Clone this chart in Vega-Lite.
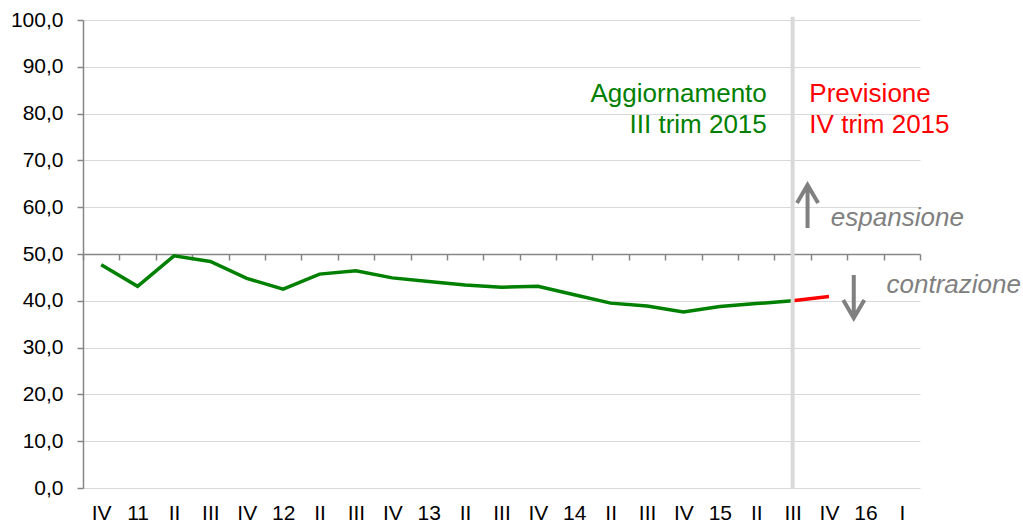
{
  "$schema": "https://vega.github.io/schema/vega-lite/v6.json",
  "width": 837,
  "height": 468,
  "autosize": {"type": "none"},
  "padding": {"left": 83, "top": 20, "right": 103, "bottom": 35},
  "background": "white",
  "config": {
    "font": "Liberation Sans",
    "view": {"stroke": null},
    "axis": {"labelFont": "Liberation Sans", "titleFont": "Liberation Sans"}
  },
  "resolve": {"axis": {"x": "independent"}},
  "layer": [
    {
      "data": {
        "values": [
          {"idx": 0, "value": 47.7, "series": "Aggiornamento III trim 2015"},
          {"idx": 1, "value": 43.1, "series": "Aggiornamento III trim 2015"},
          {"idx": 2, "value": 49.6, "series": "Aggiornamento III trim 2015"},
          {"idx": 3, "value": 48.4, "series": "Aggiornamento III trim 2015"},
          {"idx": 4, "value": 44.8, "series": "Aggiornamento III trim 2015"},
          {"idx": 5, "value": 42.5, "series": "Aggiornamento III trim 2015"},
          {"idx": 6, "value": 45.7, "series": "Aggiornamento III trim 2015"},
          {"idx": 7, "value": 46.4, "series": "Aggiornamento III trim 2015"},
          {"idx": 8, "value": 44.9, "series": "Aggiornamento III trim 2015"},
          {"idx": 9, "value": 44.1, "series": "Aggiornamento III trim 2015"},
          {"idx": 10, "value": 43.4, "series": "Aggiornamento III trim 2015"},
          {"idx": 11, "value": 42.9, "series": "Aggiornamento III trim 2015"},
          {"idx": 12, "value": 43.1, "series": "Aggiornamento III trim 2015"},
          {"idx": 13, "value": 41.3, "series": "Aggiornamento III trim 2015"},
          {"idx": 14, "value": 39.5, "series": "Aggiornamento III trim 2015"},
          {"idx": 15, "value": 38.9, "series": "Aggiornamento III trim 2015"},
          {"idx": 16, "value": 37.6, "series": "Aggiornamento III trim 2015"},
          {"idx": 17, "value": 38.8, "series": "Aggiornamento III trim 2015"},
          {"idx": 18, "value": 39.4, "series": "Aggiornamento III trim 2015"},
          {"idx": 19, "value": 40.0, "series": "Aggiornamento III trim 2015"},
          {"idx": 19, "value": 40.0, "series": "Previsione IV trim 2015"},
          {"idx": 20, "value": 40.9, "series": "Previsione IV trim 2015"}
        ]
      },
      "mark": {"type": "line", "strokeWidth": 3.5},
      "encoding": {
        "x": {
          "field": "idx",
          "type": "quantitative",
          "scale": {"domain": [-0.5, 22.5], "nice": false, "zero": false},
          "axis": {
            "orient": "bottom",
            "values": [0,1,2,3,4,5,6,7,8,9,10,11,12,13,14,15,16,17,18,19,20,21,22],
            "labelExpr": "['IV','11','II','III','IV','12','II','III','IV','13','II','III','IV','14','II','III','IV','15','II','III','IV','16','I'][datum.value]",
            "domain": false,
            "ticks": false,
            "tickSize": 0,
            "grid": false,
            "labelPadding": 14,
            "labelFontSize": 21,
            "labelColor": "#000000",
            "labelFlush": false,
            "labelOverlap": false,
            "title": null
          }
        },
        "y": {
          "field": "value",
          "type": "quantitative",
          "scale": {"domain": [0, 100], "nice": false},
          "axis": {
            "values": [0,10,20,30,40,50,60,70,80,90,100],
            "labelExpr": "replace(format(datum.value, '.1f'), '.', ',')",
            "grid": true,
            "gridColor": "#d9d9d9",
            "gridWidth": 1.2,
            "domainColor": "#868686",
            "domainWidth": 1.5,
            "tickColor": "#868686",
            "tickWidth": 1.5,
            "tickSize": 6,
            "labelFontSize": 21,
            "labelPadding": 14,
            "labelColor": "#000000",
            "labelFlush": false,
            "title": null
          }
        },
        "color": {
          "field": "series",
          "type": "nominal",
          "scale": {"domain": ["Aggiornamento III trim 2015", "Previsione IV trim 2015"], "range": ["#008000", "#ff0000"]},
          "legend": null
        }
      }
    },
    {
      "data": {"values": [{"idx": 19, "from": 0, "to": 100.7}]},
      "mark": {"type": "rule", "color": "#d9d9d9", "strokeWidth": 4},
      "encoding": {
        "x": {
          "field": "idx",
          "type": "quantitative",
          "axis": {
            "orient": "bottom",
            "offset": -234,
            "values": [-0.5,0.5,1.5,2.5,3.5,4.5,5.5,6.5,7.5,8.5,9.5,10.5,11.5,12.5,13.5,14.5,15.5,16.5,17.5,18.5,19.5,20.5,21.5,22.5],
            "labels": false,
            "ticks": true,
            "tickSize": 6,
            "tickColor": "#868686",
            "tickWidth": 1.5,
            "domain": true,
            "domainColor": "#868686",
            "domainWidth": 1.5,
            "grid": false,
            "title": null
          }
        },
        "y": {"field": "from", "type": "quantitative"},
        "y2": {"field": "to"}
      }
    },
    {
      "data": {"values": [{"idx": 18.29, "value": 82.5, "label": ["Aggiornamento", "III trim 2015"]}]},
      "mark": {"type": "text", "align": "right", "baseline": "alphabetic", "fontSize": 26, "lineHeight": 31.5, "color": "#008000"},
      "encoding": {
        "x": {"field": "idx", "type": "quantitative", "axis": null},
        "y": {"field": "value", "type": "quantitative"},
        "text": {"field": "label"}
      }
    },
    {
      "data": {"values": [{"idx": 19.46, "value": 82.5, "label": ["Previsione", "IV trim 2015"]}]},
      "mark": {"type": "text", "align": "left", "baseline": "alphabetic", "fontSize": 26, "lineHeight": 31.5, "color": "#ff0000"},
      "encoding": {
        "x": {"field": "idx", "type": "quantitative", "axis": null},
        "y": {"field": "value", "type": "quantitative"},
        "text": {"field": "label"}
      }
    },
    {
      "data": {"values": [
        {"idx": 20.05, "value": 56.0, "label": "espansione"},
        {"idx": 21.58, "value": 41.6, "label": "contrazione"}
      ]},
      "mark": {"type": "text", "align": "left", "baseline": "alphabetic", "fontSize": 26, "fontStyle": "italic", "color": "#808080"},
      "encoding": {
        "x": {"field": "idx", "type": "quantitative", "axis": null},
        "y": {"field": "value", "type": "quantitative"},
        "text": {"field": "label"}
      }
    },
    {
      "data": {"values": [
        {"idx": 19.41, "value": 60.15, "direction": "up"},
        {"idx": 20.68, "value": 40.9, "direction": "down"}
      ]},
      "mark": {"type": "point", "filled": false, "size": 1849, "strokeWidth": 4, "color": "#808080", "opacity": 1},
      "encoding": {
        "x": {"field": "idx", "type": "quantitative", "axis": null},
        "y": {"field": "value", "type": "quantitative"},
        "shape": {
          "field": "direction",
          "type": "nominal",
          "scale": {"domain": ["up", "down"], "range": ["M0,1L0,-1M-0.49,-0.16L0,-1L0.49,-0.16", "M0,-1L0,1M-0.49,0.16L0,1L0.49,0.16"]},
          "legend": null
        }
      }
    }
  ]
}
